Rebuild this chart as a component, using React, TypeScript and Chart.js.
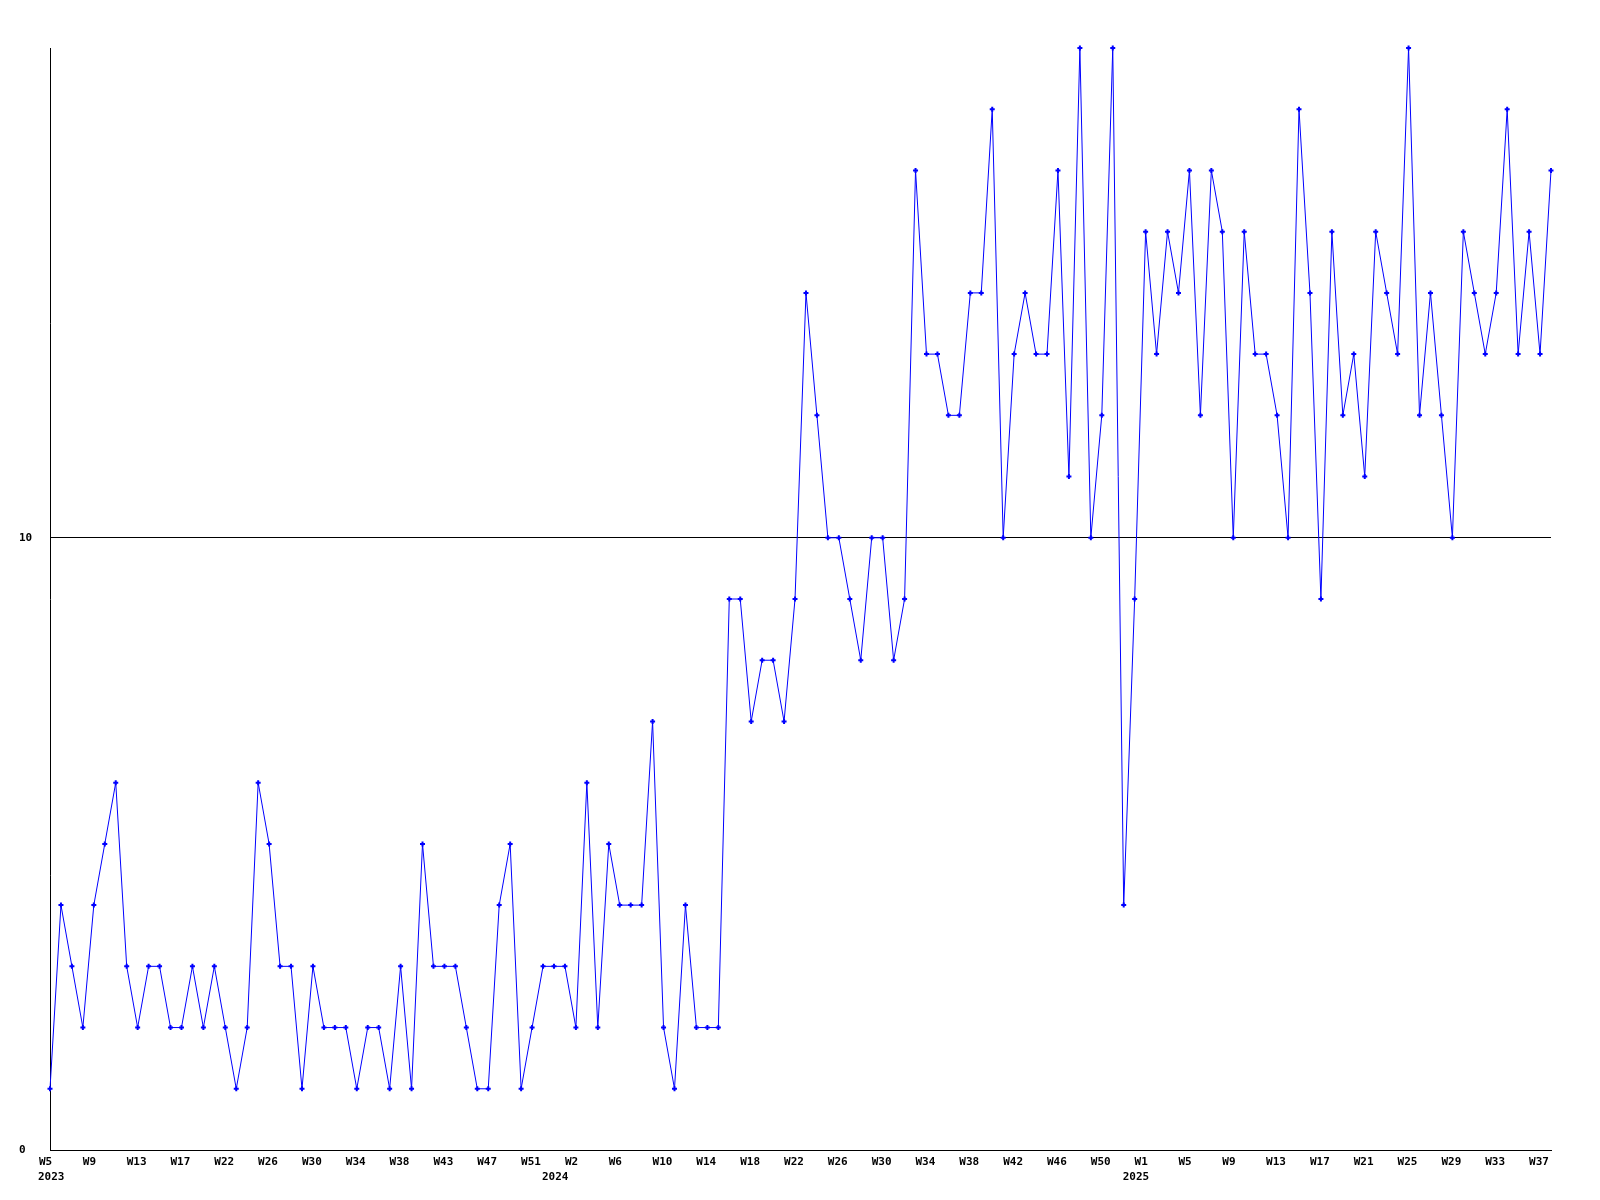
import React, { useEffect, useRef } from "react";
import { Chart, registerables } from "chart.js";

Chart.register(...registerables);

// Weekly values, 2023 W5 .. 2025 W38
const values: number[] = [
  1, 4, 3, 2, 4, 5, 6, 3, 2, 3, 3, 2, 2, 3, 2, 3, 2, 1, 2, 6,
  5, 3, 3, 1, 3, 2, 2, 2, 1, 2, 2, 1, 3, 1, 5, 3, 3, 3, 2, 1,
  1, 4, 5, 1, 2, 3, 3, 3, 2, 6, 2, 5, 4, 4, 4, 7, 2, 1, 4, 2,
  2, 2, 9, 9, 7, 8, 8, 7, 9, 14, 12, 10, 10, 9, 8, 10, 10, 8, 9, 16,
  13, 13, 12, 12, 14, 14, 17, 10, 13, 14, 13, 13, 16, 11, 18, 10, 12, 18, 4, 9,
  15, 13, 15, 14, 16, 12, 16, 15, 10, 15, 13, 13, 12, 10, 17, 14, 9, 15, 12, 13,
  11, 15, 14, 13, 18, 12, 14, 12, 10, 15, 14, 13, 14, 17, 13, 15, 13, 16,
];

// Week tick labels, one every 4 points
const weekTicks: string[] = [
  "W5", "W9", "W13", "W17", "W22", "W26", "W30", "W34", "W38", "W43", "W47", "W51",
  "W2", "W6", "W10", "W14", "W18", "W22", "W26", "W30", "W34", "W38", "W42", "W46", "W50",
  "W1", "W5", "W9", "W13", "W17", "W21", "W25", "W29", "W33", "W37",
];
const weekTickEvery = 4;

// Year labels and the point index where each year label sits
const yearLabels: string[] = ["2023", "2024", "2025"];
const yearLabelPoints: number[] = [0, 46, 99];

const yTicks: number[] = [0, 10];
const yMax = 18;

const FONT = { family: "'DejaVu Sans Mono', monospace", size: 11, weight: "bold" as const };

export default function App() {
  const ref = useRef<HTMLCanvasElement | null>(null);

  useEffect(() => {
    if (!ref.current) return;
    const weekLabels = values.map((_, i) =>
      i % weekTickEvery === 0 && weekTicks[i / weekTickEvery] !== undefined ? weekTicks[i / weekTickEvery] : ""
    );
    const yearRow = values.map((_, i) => {
      const k = yearLabelPoints.indexOf(i);
      return k >= 0 ? yearLabels[k] : "";
    });

    const chart = new Chart(ref.current, {
      type: "line",
      data: {
        labels: weekLabels,
        datasets: [
          {
            data: values,
            xAxisID: "x",
            yAxisID: "y",
            borderColor: "#0000ff",
            backgroundColor: "#0000ff",
            borderWidth: 1,
            tension: 0,
            fill: false,
            pointStyle: "cross",
            pointRadius: 2.5,
            pointBorderWidth: 2,
            pointBorderColor: "#0000ff",
            pointBackgroundColor: "#0000ff",
            clip: false,
          },
        ],
      },
      options: {
        animation: false,
        responsive: false,
        devicePixelRatio: 1,
        layout: { padding: { left: 11, top: 40, right: 41, bottom: 0 } },
        plugins: {
          legend: { display: false },
          tooltip: { enabled: false },
          title: { display: false },
        },
        scales: {
          x: {
            type: "category",
            position: "bottom",
            offset: false,
            grid: { display: false, drawTicks: false },
            border: { display: true, color: "#000", width: 1 },
            ticks: {
              autoSkip: false,
              maxRotation: 0,
              minRotation: 0,
              align: "start",
              labelOffset: -11,
              padding: 6,
              color: "#000",
              font: FONT,
            },
            afterFit: (s: any) => {
              s.height = 15;
            },
          },
          x2: {
            type: "category",
            position: "bottom",
            offset: false,
            labels: yearRow,
            grid: { display: false, drawTicks: false },
            border: { display: false },
            ticks: {
              autoSkip: false,
              maxRotation: 0,
              minRotation: 0,
              align: "start",
              labelOffset: -12,
              padding: 6,
              color: "#000",
              font: FONT,
            },
            afterFit: (s: any) => {
              s.height = 27;
            },
          },
          y: {
            type: "linear",
            position: "left",
            min: 0,
            max: yMax,
            grid: { color: "#000", lineWidth: 1, drawTicks: false },
            border: { display: true, color: "#000", width: 1 },
            ticks: {
              crossAlign: "far",
              color: "#000",
              font: FONT,
              padding: 0,
            },
            afterBuildTicks: (axis: any) => {
              axis.ticks = yTicks.map((v) => ({ value: v }));
            },
            afterFit: (s: any) => {
              s.width = 31;
            },
          },
        },
      },
    });
    return () => chart.destroy();
  }, []);

  return (
    <div style={{ width: 1584, height: 1184 }}>
      <canvas ref={ref} width={1584} height={1184} style={{ display: "block" }} />
    </div>
  );
}
